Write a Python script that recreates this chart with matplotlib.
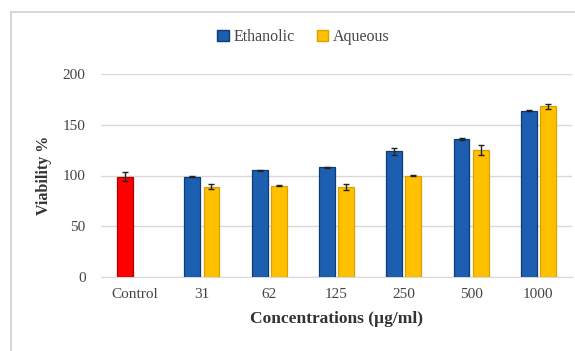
import numpy as np
import matplotlib.pyplot as plt
from matplotlib.patches import Rectangle, Patch

# data
categories = ['Control', '31', '62', '125', '250', '500', '1000']
control_value = 99
control_err = 4
ethanolic = [99, 105, 108, 124, 136, 164]
ethanolic_err = [0.6, 0.8, 0.8, 3.5, 0.6, 0.6]
aqueous = [89, 90, 89, 100, 125, 168]
aqueous_err = [2.5, 0.8, 3, 0.6, 5, 2.5]

plt.rcParams['font.family'] = ['Liberation Serif', 'DejaVu Serif']

fig = plt.figure(figsize=(5.75, 3.51), dpi=100)
fig.patches.append(Rectangle((11 / 575, -0.1), 1.2, 1 - 12 / 351 + 0.1,
                             transform=fig.transFigure, fill=False,
                             edgecolor='#d0d0d0', linewidth=1.2))
ax = fig.add_axes([101 / 575, 1 - 277 / 351, 471 / 575, 203 / 351])

x = np.arange(len(categories))
w = 0.235
off = 0.142
err_kw = dict(ecolor='#222222', elinewidth=1.0, capsize=2.5, capthick=1.0)

ax.bar(x[0] - off, control_value, w, yerr=control_err, color='#ff0000',
       edgecolor='#b00000', linewidth=0.9, error_kw=err_kw, zorder=3)
ax.bar(x[1:] - off, ethanolic, w, yerr=ethanolic_err, color='#1c5fb0',
       edgecolor='#0f3a72', linewidth=0.9, error_kw=err_kw, zorder=3)
ax.bar(x[1:] + off, aqueous, w, yerr=aqueous_err, color='#ffc000',
       edgecolor='#d9a200', linewidth=0.9, error_kw=err_kw, zorder=3)

ax.set_xlim(-0.5, len(categories) - 0.5)
ax.set_ylim(0, 200)
ax.set_yticks([0, 50, 100, 150, 200])
ax.set_xticks(x)
ax.set_xticklabels(categories)
ax.grid(axis='y', color='#d9d9d9', linewidth=1.0, zorder=0)
for s in ['top', 'right', 'left']:
    ax.spines[s].set_visible(False)
ax.spines['bottom'].set_color('#d9d9d9')
ax.tick_params(length=0, labelsize=11, colors='#444444')
ax.tick_params(axis='x', pad=8)
ax.tick_params(axis='y', pad=11)

ax.set_ylabel('Viability %', fontsize=11.5, fontweight='bold', color='#333333', labelpad=8)
ax.set_xlabel('Concentrations (µg/ml)', fontsize=12.5, fontweight='bold', color='#333333', labelpad=7)

handles = [Patch(facecolor='#1c5fb0', edgecolor='#0f3a72', label='Ethanolic'),
           Patch(facecolor='#ffc000', edgecolor='#d9a200', label='Aqueous')]
fig.legend(handles=handles, loc='center', bbox_to_anchor=(0.528, 1 - 37 / 351), ncol=2,
           frameon=False, fontsize=11.5, handlelength=0.7, handleheight=0.7,
           handletextpad=0.3, columnspacing=1.4, labelcolor='#444444')

fig.savefig('out.png', dpi=100)
